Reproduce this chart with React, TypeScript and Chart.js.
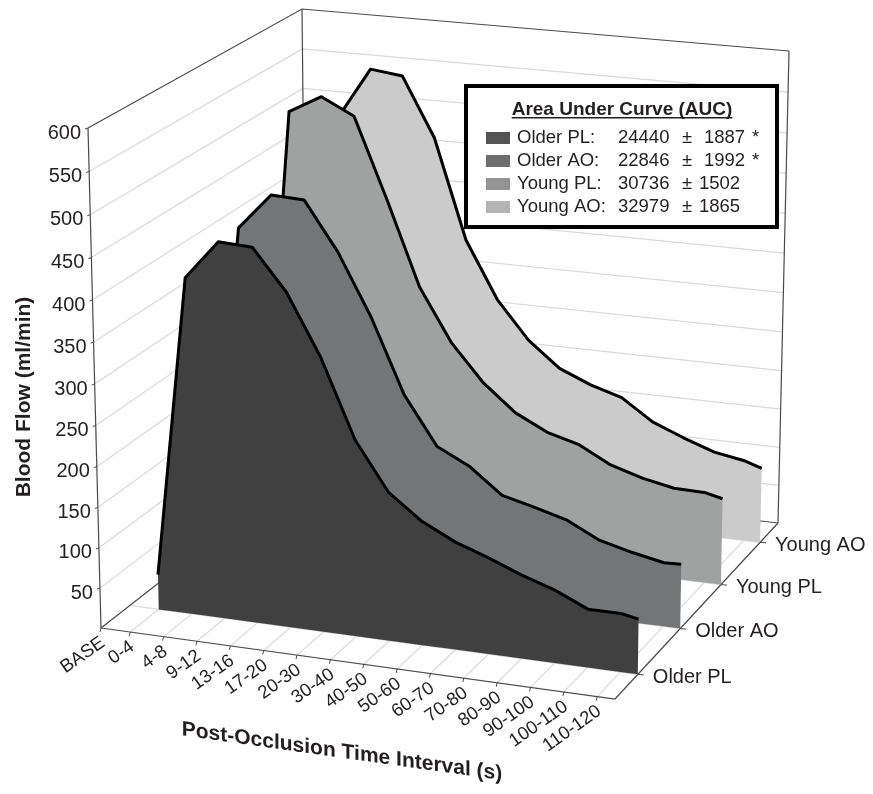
import React, { useEffect, useRef } from "react";
import { Chart, registerables } from "chart.js";

Chart.register(...registerables);

const categories = ["BASE", "0-4", "4-8", "9-12", "13-16", "17-20", "20-30", "30-40", "40-50", "50-60", "60-70", "70-80", "80-90", "90-100", "100-110", "110-120"];
const olderPL = [44, 413, 460, 458, 409, 336, 242, 183, 153, 133, 119, 103, 90, 72, 72, 68];
const olderAO = [45, 431, 475, 473, 415, 340, 249, 190, 170, 139, 129, 118, 98, 88, 80, 81];
const youngPL = [45, 533, 555, 535, 437, 333, 267, 221, 188, 168, 157, 136, 124, 116, 115, 110];
const youngAO = [45, 490, 552, 547, 474, 349, 277, 229, 197, 180, 168, 141, 125, 111, 104, 97];
const seriesNames = ["Older PL", "Older AO", "Young PL", "Young AO"];
const seriesValues = [olderPL, olderAO, youngPL, youngAO];
const seriesColors = ["#404040", "#737577", "#a0a2a1", "#cbcbcb"];
const yTicks = [50, 100, 150, 200, 250, 300, 350, 400, 450, 500, 550, 600];
const legendColors = ["#545454", "#6e6e6e", "#939393", "#b4b4b4"];
const legendLabels = ["Older PL:", "Older AO:", "Young PL:", "Young AO:"];
const legendMeans = ["24440", "22846", "30736", "32979"];
const legendErrors = ["1887", "1992", "1502", "1865"];
const legendStars = ["*", "*", "", ""];

// Projection of the 3D box onto the page: corners as [x, y]
const FLOOR = { a: [101, 628], b: [615, 699], c: [307, 467], d: [778, 523] };
const ROOF = { a: [88, 128], b: [621, 184], c: [302, 9], d: [789, 51] };
const DEPTHS = [0.14, 0.4, 0.65, 0.89];
const TICK_STEP = 0.0649;
const TICK_START = -0.008;
const YMAX = 600;
const WARP = 0.047;

const bil = (q: any, u: number, v: number, k: number) =>
  q.a[k] * (1 - u) * (1 - v) + q.b[k] * u * (1 - v) + q.c[k] * (1 - u) * v + q.d[k] * u * v;

function proj(u: number, v: number, val: number) {
  const h = val / YMAX;
  const s = (h * (1 - WARP)) / (1 - WARP * h);
  return {
    x: bil(FLOOR, u, v, 0) * (1 - s) + bil(ROOF, u, v, 0) * s,
    y: bil(FLOOR, u, v, 1) * (1 - s) + bil(ROOF, u, v, 1) * s,
  };
}

const tickU = (i: number) => (i === 0 ? 0 : TICK_START + i * TICK_STEP);
const pointU = (i: number) => (i === categories.length - 1 ? 1 : tickU(i + 1));

const line = (data: any[], color: string, width: number, order: number) => ({
  data,
  showLine: true,
  borderColor: color,
  borderWidth: width,
  pointRadius: 0,
  fill: false,
  order,
  tension: 0,
});

const GRID = "#d9d9d9";
const AXIS = "#4a4a4a";

function buildDatasets() {
  const sets: any[] = [];
  const back = 100;
  // walls
  for (const t of yTicks) {
    if (t === YMAX) continue;
    sets.push(line([proj(0, 0, t), proj(0, 1, t), proj(1, 1, t)], GRID, 1.2, back));
  }
  // floor
  categories.forEach((_, i) => {
    if (i > 0) sets.push(line([proj(tickU(i), 0, 0), proj(tickU(i), 1, 0)], GRID, 1.2, back));
  });
  DEPTHS.forEach((v) => sets.push(line([proj(0, v, 0), proj(1, v, 0)], GRID, 1.2, back)));
  // box edges
  sets.push(line([proj(0, 0, 600), proj(0, 1, 600), proj(1, 1, 600)], AXIS, 1.2, back - 1));
  sets.push(line([proj(0, 1, 0), proj(0, 1, 600)], AXIS, 1.2, back - 1));
  sets.push(line([proj(1, 1, 0), proj(1, 1, 600)], AXIS, 1.2, back - 1));
  sets.push(line([proj(0, 0, 0), proj(0, 0, 600)], AXIS, 1.2, back - 1));
  sets.push(line([proj(0, 0, 0), proj(1, 0, 0), proj(1, 1, 0)], AXIS, 1.2, back - 1));
  sets.push(line([proj(0, 0, 0), proj(0, 1, 0), proj(1, 1, 0)], AXIS, 1.2, back - 1));
  // ticks
  yTicks.forEach((t) => {
    const p = proj(0, 0, t);
    sets.push(line([p, { x: p.x - 3, y: p.y + 1 }], AXIS, 1, back - 1));
  });
  categories.forEach((_, i) => {
    const p = proj(tickU(i), 0, 0);
    sets.push(line([p, { x: p.x - 1, y: p.y + 4 }], AXIS, 1, back - 1));
  });
  DEPTHS.forEach((v) => {
    const p = proj(1, v, 0);
    sets.push(line([p, { x: p.x + 6, y: p.y + 0.5 }], AXIS, 1, back - 1));
  });
  // areas: the first series stands in front
  seriesValues.forEach((vals, s) => {
    const v = DEPTHS[s];
    const top = vals.map((val, i) => proj(pointU(i), v, val));
    const base = vals.map((_, i) => proj(pointU(i), v, 0)).reverse();
    sets.push({
      label: seriesNames[s],
      data: [...top, ...base],
      showLine: true,
      borderWidth: 0,
      borderColor: seriesColors[s],
      backgroundColor: seriesColors[s],
      pointRadius: 0,
      fill: "shape",
      tension: 0,
      order: 11 + s * 2,
    });
    sets.push({ ...line(top, "#000000", 3, 10 + s * 2), borderJoinStyle: "round", borderCapStyle: "butt" });
  });
  return sets;
}

const FONT = '"Liberation Sans", Arial, sans-serif';
const TEXT = "#231f20";

const textPlugin = {
  id: "boxText",
  afterDatasetsDraw(chart: any) {
    const c: CanvasRenderingContext2D = chart.ctx;
    c.save();
    c.fillStyle = TEXT;
    // value axis
    c.font = `20px ${FONT}`;
    c.textAlign = "right";
    c.textBaseline = "middle";
    yTicks.forEach((t) => {
      const p = proj(0, 0, t);
      c.fillText(String(t), p.x - 7, p.y + 5);
    });
    // category axis
    categories.forEach((label, i) => {
      const p = proj(tickU(i), 0, 0);
      c.save();
      c.translate(p.x + 2, p.y + 13);
      c.rotate((-35 * Math.PI) / 180);
      c.font = `18.5px ${FONT}`;
      c.textAlign = "right";
      c.textBaseline = "middle";
      c.fillText(label, 0, 0);
      c.restore();
    });
    // depth axis
    c.textAlign = "left";
    c.font = `20px ${FONT}`;
    seriesNames.forEach((name, s) => {
      const p = proj(1, DEPTHS[s], 0);
      c.fillText(name, p.x + 15, p.y + 3);
    });
    // axis titles
    c.save();
    c.translate(24, 397);
    c.rotate(-Math.PI / 2);
    c.font = `bold 21px ${FONT}`;
    c.textAlign = "center";
    c.fillText("Blood Flow (ml/min)", 0, 0);
    c.restore();
    c.save();
    c.transform(1, 0.14, 0, 1, 342, 752);
    c.font = `bold 21px ${FONT}`;
    c.textAlign = "center";
    c.fillText("Post-Occlusion Time Interval (s)", 0, 0);
    c.restore();
    // AUC box
    c.fillStyle = "#ffffff";
    c.fillRect(466, 86, 311, 141);
    c.strokeStyle = "#000000";
    c.lineWidth = 4;
    c.strokeRect(466, 86, 311, 141);
    c.fillStyle = TEXT;
    c.textBaseline = "alphabetic";
    c.textAlign = "center";
    c.font = `bold 19px ${FONT}`;
    const title = "Area Under Curve (AUC)";
    c.fillText(title, 622, 115);
    const w = c.measureText(title).width;
    c.fillRect(622 - w / 2, 117, w, 1.5);
    c.textAlign = "left";
    c.font = `18.5px ${FONT}`;
    legendLabels.forEach((label, i) => {
      const y = 143 + i * 23;
      c.fillStyle = legendColors[i];
      c.fillRect(486, y - 11, 24, 12);
      c.fillStyle = TEXT;
      c.fillText(label, 517, y);
      c.fillText(legendMeans[i], 618, y);
      c.fillText("±", 682, y);
      c.fillText(legendErrors[i], legendStars[i] ? 704 : 699, y);
      if (legendStars[i]) c.fillText(legendStars[i], 752, y);
    });
    c.restore();
  },
};

export default function App() {
  const ref = useRef<HTMLCanvasElement>(null);
  useEffect(() => {
    const chart = new Chart(ref.current!, {
      type: "scatter",
      data: { datasets: buildDatasets() },
      options: {
        animation: false,
        responsive: false,
        layout: { padding: 0 },
        plugins: { legend: { display: false }, title: { display: false }, tooltip: { enabled: false } },
        scales: {
          x: { type: "linear", min: 0, max: 873, display: false },
          y: { type: "linear", min: 0, max: 794, reverse: true, display: false },
        },
      },
      plugins: [textPlugin],
    } as any);
    return () => chart.destroy();
  }, []);
  return (
    <div style={{ position: "absolute", left: 0, top: 0, width: 873, height: 794, background: "#fff" }}>
      <canvas ref={ref} width={873} height={794} style={{ display: "block" }} />
    </div>
  );
}
